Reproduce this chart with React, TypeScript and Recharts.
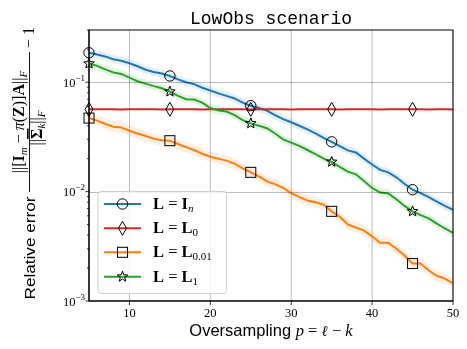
import { ComposedChart, Line, Area, XAxis, YAxis, CartesianGrid } from 'recharts'

const P = [
  5, 6, 7, 8, 9, 10, 11, 12, 13, 14, 15, 16, 17, 18, 19, 20, 21, 22, 23, 24, 25, 26, 27,
  28, 29, 30, 31, 32, 33, 34, 35, 36, 37, 38, 39, 40, 41, 42, 43, 44, 45, 46, 47, 48, 49, 50,
]

// L = I_n
const ERR_IN = [
  0.186, 0.179, 0.172, 0.162, 0.157, 0.149, 0.14, 0.13, 0.124, 0.12, 0.114, 0.106, 0.1,
  0.096, 0.089, 0.084, 0.079, 0.075, 0.071, 0.065, 0.061, 0.058, 0.055, 0.05, 0.046, 0.043,
  0.04, 0.037, 0.034, 0.031, 0.0285, 0.026, 0.0238, 0.0228, 0.02, 0.0177, 0.0158, 0.015,
  0.0135, 0.0118, 0.0104, 0.0097, 0.0089, 0.0081, 0.0074, 0.0068,
]
// L = L_0
const ERR_L0 = [
  0.0565, 0.0566, 0.0565, 0.0565, 0.0564, 0.0565, 0.0566, 0.0565, 0.0565, 0.0564, 0.0565,
  0.0565, 0.0566, 0.0565, 0.0564, 0.0565, 0.0565, 0.0566, 0.0565, 0.0565, 0.0564, 0.0565,
  0.0565, 0.0566, 0.0565, 0.0564, 0.0565, 0.0565, 0.0565, 0.0566, 0.0565, 0.0564, 0.0565,
  0.0565, 0.0566, 0.0565, 0.0564, 0.0565, 0.0565, 0.0565, 0.0566, 0.0565, 0.0564, 0.0565,
  0.0565, 0.0564,
]
// L = L_0.01
const ERR_L001 = [
  0.047, 0.0445, 0.0415, 0.0392, 0.0385, 0.036, 0.034, 0.0322, 0.0305, 0.0295, 0.0292, 0.0272,
  0.0255, 0.024, 0.0222, 0.0208, 0.02, 0.0192, 0.018, 0.0163, 0.015, 0.0138, 0.0124, 0.0117,
  0.0108, 0.0097, 0.0089, 0.0083, 0.008, 0.0076, 0.0066, 0.0059, 0.005, 0.0047, 0.0044, 0.0039,
  0.0034, 0.0034, 0.003, 0.0026, 0.0022, 0.0022, 0.0019, 0.0017, 0.0016, 0.00145,
]
// L = L_1
const ERR_L1 = [
  0.148, 0.141, 0.131, 0.123, 0.119, 0.11, 0.102, 0.097, 0.092, 0.088, 0.082, 0.075, 0.07,
  0.0695, 0.065, 0.058, 0.055, 0.054, 0.05, 0.045, 0.042, 0.04, 0.038, 0.034, 0.03, 0.028,
  0.0262, 0.024, 0.022, 0.02, 0.0187, 0.0168, 0.0152, 0.0144, 0.0125, 0.0108, 0.0098, 0.0096,
  0.0085, 0.0074, 0.0066, 0.0061, 0.0057, 0.0051, 0.0046, 0.0042,
]

// multiplicative half-width of the shaded bands
const BAND_IN = 1.09
const BAND_L0 = 1.01
const BAND_L001 = 1.12
const BAND_L1 = 1.09

const MARK_P = [5, 15, 25, 35, 45]
const X_TICKS = [10, 20, 30, 40, 50]
const Y_TICKS = [
  0.001, 0.002, 0.003, 0.004, 0.005, 0.006, 0.007, 0.008, 0.009,
  0.01, 0.02, 0.03, 0.04, 0.05, 0.06, 0.07, 0.08, 0.09,
  0.1, 0.2, 0.3,
]
const Y_GRID = [0.01, 0.1]
const Y_DOMAIN = [0.001, 0.3]

// plot box (matches chart margins + axis sizes below)
const W = 467
const H = 349
const BOX = { left: 89, right: 453, top: 30, bottom: 301 }

const BLUE = '#1f77b4'
const RED = '#d62728'
const ORANGE = '#ff7f0e'
const GREEN = '#2ca02c'
const GRID = '#bdbdbd'
const SERIF = '"Liberation Serif", "DejaVu Serif", serif'
const SANS = '"Liberation Sans", "DejaVu Sans", sans-serif'

const rows = P.map((p, i) => ({
  p,
  In: ERR_IN[i],
  L0: ERR_L0[i],
  L001: ERR_L001[i],
  L1: ERR_L1[i],
  bIn: [ERR_IN[i] / BAND_IN, ERR_IN[i] * BAND_IN],
  bL0: [ERR_L0[i] / BAND_L0, ERR_L0[i] * BAND_L0],
  bL001: [ERR_L001[i] / BAND_L001, ERR_L001[i] * BAND_L001],
  bL1: [ERR_L1[i] / BAND_L1, ERR_L1[i] * BAND_L1],
}))

const logY = (v: number) => {
  const a = Math.log10(Y_DOMAIN[1])
  const b = Math.log10(Y_DOMAIN[0])
  return Math.round(BOX.top + ((a - Math.log10(v)) / (a - b)) * (BOX.bottom - BOX.top)) + 0.5
}

type Shape = 'circle' | 'diamond' | 'square' | 'star'

function Marker({ shape, cx, cy }: { shape: Shape; cx: number; cy: number }) {
  const common = { fill: 'none', stroke: '#000', strokeWidth: 1 }
  if (shape === 'circle') return <circle cx={cx} cy={cy} r={5.2} {...common} />
  if (shape === 'square') return <rect x={cx - 5} y={cy - 5} width={10} height={10} {...common} />
  if (shape === 'diamond') {
    return <polygon points={`${cx},${cy - 7} ${cx + 4},${cy} ${cx},${cy + 7} ${cx - 4},${cy}`} {...common} />
  }
  const pts: string[] = []
  for (let k = 0; k < 10; k++) {
    const r = k % 2 === 0 ? 5.5 : 2.3
    const a = -Math.PI / 2 + (k * Math.PI) / 5
    pts.push(`${cx + r * Math.cos(a)},${cy + r * Math.sin(a)}`)
  }
  return <polygon points={pts.join(' ')} {...common} />
}

const makeDot = (shape: Shape) => (props: any) => {
  const { cx, cy, payload, index } = props
  if (!MARK_P.includes(payload.p)) return <g key={index} />
  return <Marker key={index} shape={shape} cx={cx} cy={cy} />
}

function YTick({ x, y, payload }: any) {
  const v = payload.value as number
  const lg = Math.log10(v)
  const e = Math.round(lg)
  const major = Math.abs(lg - e) < 1e-6
  return (
    <g>
      <line x1={x} x2={x - (major ? 3.5 : 2)} y1={y} y2={y} stroke="#000" strokeWidth={0.8} />
      {major && (
        <text x={x - 4} y={y + 4.5} textAnchor="end" fontFamily={SERIF} fontSize={12.5} fill="#000">
          10
          <tspan dy={-6} fontSize={9}>
            {'\u2212' + Math.abs(e)}
          </tspan>
        </text>
      )}
    </g>
  )
}

function LegendRow({ y, color, shape, sub, subItalic, head }: any) {
  return (
    <g>
      <line x1={104} x2={141} y1={y} y2={y} stroke={color} strokeWidth={2} />
      <Marker shape={shape} cx={122.5} cy={y} />
      <text x={153} y={y + 5} fontFamily={SERIF} fontSize={16.5} fill="#000">
        <tspan fontWeight="bold">L</tspan>
        <tspan> = </tspan>
        <tspan fontWeight="bold">{head}</tspan>
        <tspan dy={3} fontSize={11} fontStyle={subItalic ? 'italic' : 'normal'}>
          {sub}
        </tspan>
      </text>
    </g>
  )
}

export default function App() {
  return (
    <div style={{ position: 'absolute', left: 0, top: 0, width: W, height: H, background: '#fff' }}>
      <ComposedChart width={W} height={H} data={rows} margin={{ top: 30, right: 14, bottom: 0, left: 0 }}>
        <CartesianGrid stroke={GRID} strokeWidth={1} horizontal={false} />
        <XAxis
          type="number"
          dataKey="p"
          domain={[5, 50]}
          ticks={X_TICKS}
          tickSize={4}
          tickMargin={3}
          tickLine={{ stroke: '#000', strokeWidth: 0.8 }}
          axisLine={{ stroke: '#000', strokeWidth: 1 }}
          tick={{ fill: '#000', fontSize: 12.5, fontFamily: SERIF }}
          height={48}
        />
        <YAxis
          type="number"
          scale="log"
          domain={Y_DOMAIN}
          ticks={Y_TICKS}
          interval={0}
          width={89}
          tickSize={0}
          tickMargin={0}
          tickLine={false}
          axisLine={{ stroke: '#000', strokeWidth: 1 }}
          tick={<YTick />}
        />

        <Area type="linear" dataKey="bIn" stroke="none" fill={BLUE} fillOpacity={0.12} isAnimationActive={false} />
        <Area type="linear" dataKey="bL0" stroke="none" fill={RED} fillOpacity={0.12} isAnimationActive={false} />
        <Area type="linear" dataKey="bL001" stroke="none" fill={ORANGE} fillOpacity={0.12} isAnimationActive={false} />
        <Area type="linear" dataKey="bL1" stroke="none" fill={GREEN} fillOpacity={0.12} isAnimationActive={false} />

        <Line type="linear" dataKey="In" stroke={BLUE} strokeWidth={2} dot={makeDot('circle')} activeDot={false} isAnimationActive={false} />
        <Line type="linear" dataKey="L0" stroke={RED} strokeWidth={2} dot={makeDot('diamond')} activeDot={false} isAnimationActive={false} />
        <Line type="linear" dataKey="L001" stroke={ORANGE} strokeWidth={2} dot={makeDot('square')} activeDot={false} isAnimationActive={false} />
        <Line type="linear" dataKey="L1" stroke={GREEN} strokeWidth={2} dot={makeDot('star')} activeDot={false} isAnimationActive={false} />
      </ComposedChart>

      <svg width={W} height={H} style={{ position: 'absolute', left: 0, top: 0, pointerEvents: 'none' }}>
        {/* horizontal grid at the decades */}
        {Y_GRID.map((v) => (
          <line
            key={v}
            x1={BOX.left}
            x2={BOX.right}
            y1={logY(v)}
            y2={logY(v)}
            stroke={GRID}
            strokeWidth={1}
            style={{ mixBlendMode: 'multiply' }}
          />
        ))}
        <rect
          x={BOX.left}
          y={BOX.top}
          width={BOX.right - BOX.left}
          height={BOX.bottom - BOX.top}
          fill="none"
          stroke="#000"
          strokeWidth={1}
        />

        <text x={271} y={24} textAnchor="middle" fontFamily='"Liberation Mono", "DejaVu Sans Mono", monospace' fontSize={18} fill="#000">
          LowObs scenario
        </text>

        <text x={271} y={336} textAnchor="middle" fontSize={16.5} fill="#000">
          <tspan fontFamily={SANS}>Oversampling </tspan>
          <tspan fontFamily={SERIF} fontStyle="italic">p</tspan>
          <tspan fontFamily={SERIF}> = </tspan>
          <tspan fontFamily='"DejaVu Serif", serif' fontStyle="italic" fontSize={15}>ℓ</tspan>
          <tspan fontFamily={SERIF}> {'\u2212'} </tspan>
          <tspan fontFamily={SERIF} fontStyle="italic">k</tspan>
        </text>

        <g transform="translate(29,166) rotate(-90)">
          <text x={-82} y={6} textAnchor="middle" fontFamily={SANS} fontSize={15} textLength={103} lengthAdjust="spacingAndGlyphs" fill="#000">
            Relative error
          </text>
          <text x={44} y={-5} textAnchor="middle" fontFamily={SERIF} fontSize={16} fill="#000">
            <tspan>||[</tspan>
            <tspan fontWeight="bold">I</tspan>
            <tspan dy={3} fontSize={11} fontStyle="italic">m</tspan>
            <tspan dy={-3}> {'\u2212'} </tspan>
            <tspan fontStyle="italic">π</tspan>
            <tspan>(</tspan>
            <tspan fontWeight="bold">Z</tspan>
            <tspan>)]</tspan>
            <tspan fontWeight="bold">A</tspan>
            <tspan>||</tspan>
            <tspan dy={3} fontSize={11} fontStyle="italic">F</tspan>
          </text>
          <line x1={-26} x2={114} y1={0.5} y2={0.5} stroke="#000" strokeWidth={0.9} />
          <text x={38} y={13} textAnchor="middle" fontFamily={SERIF} fontSize={16} fill="#000">
            <tspan>||</tspan>
            <tspan fontWeight="bold" style={{ textDecoration: 'overline' }}>Σ</tspan>
            <tspan dy={3} fontSize={11} fontStyle="italic">k</tspan>
            <tspan dy={-3}>||</tspan>
            <tspan dy={3} fontSize={11} fontStyle="italic">F</tspan>
          </text>
          <text x={118} y={5} fontFamily={SERIF} fontSize={16} fill="#000">
            {'\u2212'} 1
          </text>
        </g>

        <rect x={98} y={191.5} width={128.5} height={102} rx={3} fill="#fff" fillOpacity={0.8} stroke="#d0d0d0" strokeWidth={1} />
        <LegendRow y={204} color={BLUE} shape="circle" head="I" sub="n" subItalic />
        <LegendRow y={228.3} color={RED} shape="diamond" head="L" sub="0" />
        <LegendRow y={252.3} color={ORANGE} shape="square" head="L" sub="0.01" />
        <LegendRow y={276.7} color={GREEN} shape="star" head="L" sub="1" />
      </svg>
    </div>
  )
}
